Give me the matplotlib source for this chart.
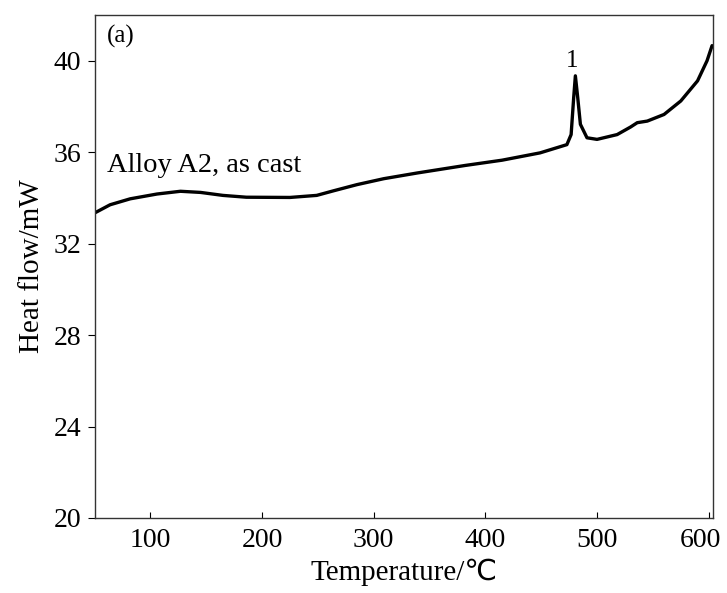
import matplotlib
matplotlib.use("Agg")
from matplotlib import pyplot as plt
from matplotlib import transforms

# DSC curve, alloy A2 as cast
temps = [50.5, 64, 82, 106, 127, 145, 165, 186, 225, 249, 264, 285, 309, 339,
         382, 415, 449, 473, 476.8, 479.1, 480.6, 482.7, 485.1, 491, 500, 518,
         530, 536, 545, 560, 575, 590, 598.5, 603]
heat = [33.35, 33.70, 33.96, 34.17, 34.29, 34.24, 34.11, 34.03, 34.02, 34.11,
        34.31, 34.58, 34.84, 35.09, 35.42, 35.65, 35.97, 36.33, 36.77, 38.39,
        39.34, 38.39, 37.22, 36.63, 36.56, 36.77, 37.10, 37.29, 37.36, 37.65,
        38.24, 39.12, 40.0, 40.66]
xticks = [100, 200, 300, 400, 500, 600]
yticks = [20, 24, 28, 32, 36, 40]

plt.rcParams['font.family'] = ['Liberation Serif', 'DejaVu Sans']

fig = plt.figure(figsize=(7.27, 5.93), dpi=100)
ax = fig.add_axes([0.1307, 0.1265, 0.8503, 0.8482])
ax.plot(temps, heat, c='black', lw=2.4, solid_capstyle='round', solid_joinstyle='round')

ax.set_xlim(50.5, 604)
ax.set_ylim(20, 42)
ax.set_xticks(xticks)
ax.set_yticks(yticks)
ax.tick_params(axis='x', direction='in', length=4, labelsize=20, pad=7)
ax.tick_params(axis='y', direction='out', length=5, labelsize=20, pad=5)
for s in ax.spines.values():
    s.set_linewidth(1.0)
    s.set_color('#333333')

# keep the last x label inside the figure, as in the original
lbl = ax.get_xticklabels()[-1]
lbl.set_transform(lbl.get_transform() + transforms.ScaledTranslation(-6 / 72, 0, fig.dpi_scale_trans))

ax.set_xlabel('Temperature/℃', fontsize=21, labelpad=4)
ax.set_ylabel('Heat flow/mW', fontsize=21, labelpad=6)

ax.text(61, 41.05, '(a)', fontsize=18, va='center', ha='left')
ax.text(61, 34.85, 'Alloy A2, as cast', fontsize=20.5, va='bottom', ha='left')
ax.text(478, 40.0, '1', fontsize=18, va='center', ha='center')

fig.savefig('out.png', dpi=100)
